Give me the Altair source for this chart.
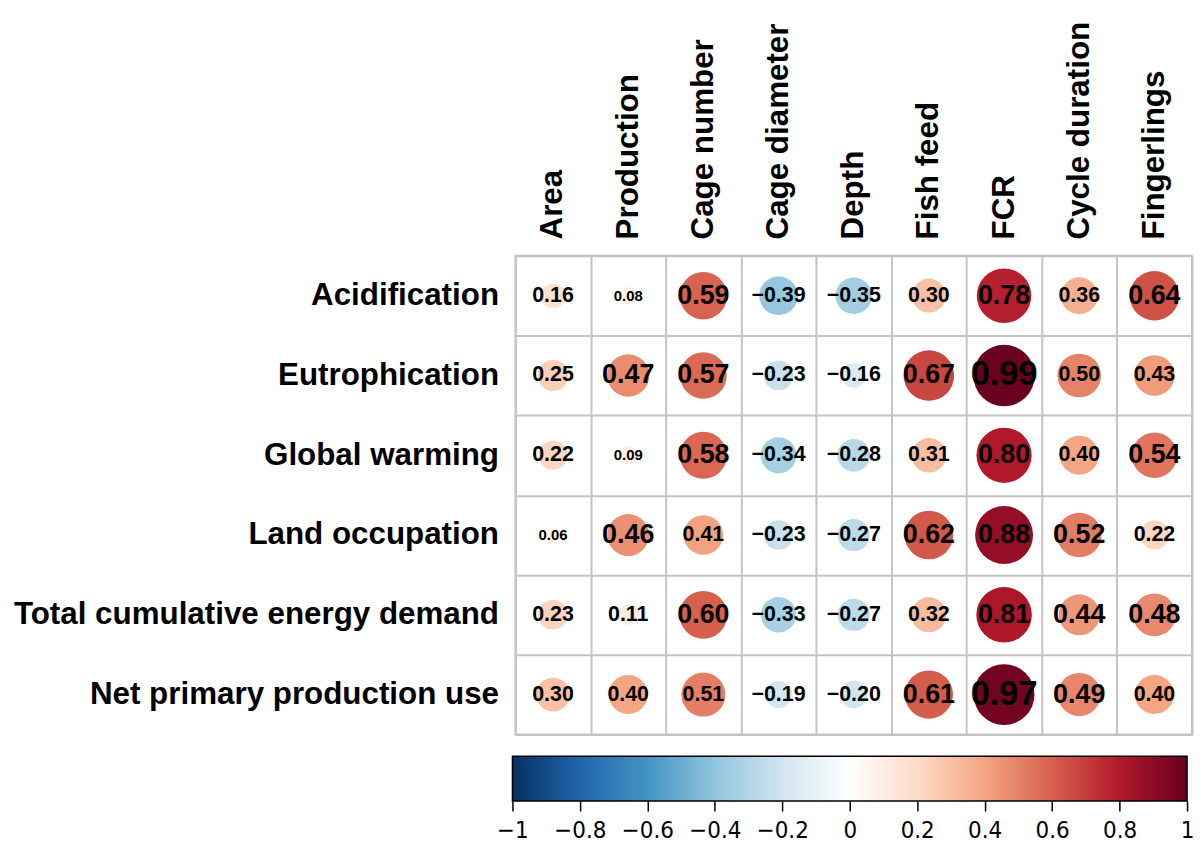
import altair as alt
import pandas as pd

# ---- data ----
predictors = ["Area", "Production", "Cage number", "Cage diameter", "Depth",
              "Fish feed", "FCR", "Cycle duration", "Fingerlings"]
impacts = ["Acidification", "Eutrophication", "Global warming", "Land occupation",
           "Total cumulative energy demand", "Net primary production use"]

acidification = [0.16, 0.08, 0.59, -0.39, -0.35, 0.30, 0.78, 0.36, 0.64]
eutrophication = [0.25, 0.47, 0.57, -0.23, -0.16, 0.67, 0.99, 0.50, 0.43]
global_warming = [0.22, 0.09, 0.58, -0.34, -0.28, 0.31, 0.80, 0.40, 0.54]
land_occupation = [0.06, 0.46, 0.41, -0.23, -0.27, 0.62, 0.88, 0.52, 0.22]
total_energy = [0.23, 0.11, 0.60, -0.33, -0.27, 0.32, 0.81, 0.44, 0.48]
npp_use = [0.30, 0.40, 0.51, -0.19, -0.20, 0.61, 0.97, 0.49, 0.40]

colorbar_ticks = [-1, -0.8, -0.6, -0.4, -0.2, 0, 0.2, 0.4, 0.6, 0.8, 1]

# ---- styling (label size class per cell, as in the reference) ----
label_px = {"S": 15, "M": 21.5, "L": 27, "XL": 34.5}
label_class = [
    ["M", "S", "L", "M", "M", "M", "L", "M", "L"],
    ["M", "L", "L", "M", "M", "L", "XL", "M", "M"],
    ["M", "S", "L", "M", "M", "M", "L", "M", "L"],
    ["S", "L", "M", "M", "M", "L", "L", "L", "M"],
    ["M", "M", "L", "M", "M", "M", "L", "L", "L"],
    ["M", "M", "M", "M", "M", "L", "XL", "L", "M"],
]
rdbu = ["#053061", "#2166AC", "#4393C3", "#92C5DE", "#D1E5F0", "#FFFFFF",
        "#FDDBC7", "#F4A582", "#D6604D", "#B2182B", "#67001F"]
grid_grey = "#C4C4C4"
font = "Liberation Sans, Arial, Helvetica, sans-serif"
narrow_font = "Liberation Sans Narrow, DejaVu Sans Condensed, Liberation Sans, sans-serif"

series = [acidification, eutrophication, global_warming, land_occupation, total_energy, npp_use]
records = []
for i, (imp, vals) in enumerate(zip(impacts, series)):
    for j, (pred, v) in enumerate(zip(predictors, vals)):
        records.append({"impact": imp, "predictor": pred, "r": v,
                        "fs": label_px[label_class[i][j]]})
df = pd.DataFrame(records)

color_scale = alt.Scale(domain=colorbar_ticks, range=rdbu, interpolate="rgb")

x_enc = alt.X("predictor:N", sort=predictors,
              scale=alt.Scale(paddingInner=0, paddingOuter=0),
              axis=alt.Axis(orient="top", labelAngle=-90, labelFontSize=31.5,
                            labelFont=font, labelFontWeight="bold", labelColor="black",
                            labelPadding=17, labelLimit=700, ticks=False, domain=False,
                            grid=True, tickBand="extent", gridColor=grid_grey,
                            gridWidth=2, title=None))
y_enc = alt.Y("impact:N", sort=impacts,
              scale=alt.Scale(paddingInner=0, paddingOuter=0),
              axis=alt.Axis(orient="left", labelFontSize=31.5, labelFont=font,
                            labelFontWeight="bold", labelColor="black",
                            labelPadding=17, labelLimit=700, ticks=False, domain=False,
                            grid=True, tickBand="extent", gridColor=grid_grey,
                            gridWidth=2, title=None))

base = alt.Chart(df).transform_calculate(absr="abs(datum.r)")

circles = base.mark_circle(opacity=1).encode(
    x=x_enc, y=y_enc,
    size=alt.Size("absr:Q", scale=alt.Scale(domain=[0, 1], range=[0, 3850]), legend=None),
    color=alt.Color("r:Q", scale=color_scale, legend=None),
)
labels = base.mark_text(font=font, fontWeight="bold", color="black",
                        baseline="middle", align="center").encode(
    x=x_enc, y=y_enc,
    text=alt.Text("r:Q", format=".2f"),
    size=alt.Size("fs:Q", scale=None, legend=None),
)
heat = alt.layer(circles, labels).properties(
    width=680, height=481,
    view=alt.ViewBackground(stroke=grid_grey, strokeWidth=2),
)

bar_df = pd.DataFrame({"lo": [colorbar_ticks[0]], "hi": [colorbar_ticks[-1]]})
gradient = alt.Gradient(
    gradient="linear", x1=0, x2=1, y1=0, y2=0,
    stops=[alt.GradientStop(offset=k / (len(rdbu) - 1), color=c) for k, c in enumerate(rdbu)],
)
colorbar = alt.Chart(bar_df).mark_rect(fill=gradient, stroke="black", strokeWidth=1.5).encode(
    x=alt.X("lo:Q", scale=alt.Scale(domain=[-1, 1], range=[-3, 675], nice=False, zero=False),
            axis=alt.Axis(values=colorbar_ticks, format="~g", tickSize=10, tickWidth=1.5,
                          tickColor="black", domain=False, grid=False, labelFontSize=24,
                          labelFont=narrow_font, labelColor="black", labelPadding=8,
                          labelFlush=False, labelOverlap=False, title=None)),
    x2="hi:Q",
    y=alt.value(0),
    y2=alt.value(45),
).properties(width=680, height=45,
             view=alt.ViewBackground(stroke="transparent"))

chart = alt.vconcat(heat, colorbar, spacing=19).resolve_scale(
    x="independent", y="independent"
).properties(
    padding={"left": 4, "top": 10, "right": 0, "bottom": 0}
).configure(background="white")

chart.save("out.html", embed_options={"renderer": "svg", "actions": False})
